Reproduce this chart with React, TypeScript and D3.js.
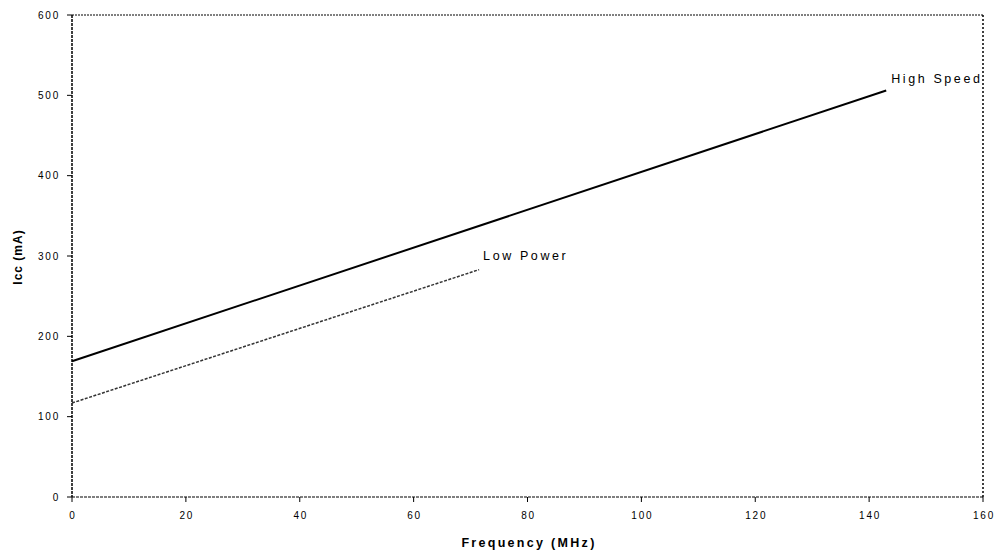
import React from "react";
import * as d3 from "d3";

const xTicks = [0, 20, 40, 60, 80, 100, 120, 140, 160];
const yTicks = [0, 100, 200, 300, 400, 500, 600];
const highSpeedX = [0, 143];
const highSpeedY = [169, 506];
const lowPowerX = [0, 71.5];
const lowPowerY = [117, 283];

const W = 998, H = 553;
const left = 72, right = 983, top = 15, bottom = 497;

export default function App() {
  const x = d3.scaleLinear().domain([0, 160]).range([left, right]);
  const y = d3.scaleLinear().domain([0, 600]).range([bottom, top]);
  const line = d3.line<[number, number]>().x(d => x(d[0])).y(d => y(d[1]));
  const hs = highSpeedX.map((v, i) => [v, highSpeedY[i]] as [number, number]);
  const lp = lowPowerX.map((v, i) => [v, lowPowerY[i]] as [number, number]);
  const font = "Arial, 'Liberation Sans', sans-serif";
  return (
    <svg width={W} height={H} style={{ position: "absolute", left: 0, top: 0, background: "#fff" }} fontFamily={font}>
      {/* frame */}
      <line x1={left} y1={top} x2={right} y2={top} stroke="#000" strokeWidth={1} strokeDasharray="2,1" />
      <line x1={right} y1={top} x2={right} y2={bottom} stroke="#000" strokeWidth={1.5} strokeDasharray="2,2" />
      <line x1={left} y1={top} x2={left} y2={bottom} stroke="#000" strokeWidth={1.5} strokeDasharray="3,1" />
      <line x1={left} y1={bottom} x2={right} y2={bottom} stroke="#000" strokeWidth={1.2} strokeDasharray="3,1" />
      {/* y ticks */}
      {yTicks.map(t => (
        <g key={"y" + t}>
          <line x1={left - 5} x2={left} y1={y(t)} y2={y(t)} stroke="#000" />
          <text x={left - 12} y={y(t)} dy="0.35em" textAnchor="end" fontSize={10} letterSpacing={1.8}>{t}</text>
        </g>
      ))}
      {/* x ticks */}
      {xTicks.map(t => (
        <g key={"x" + t}>
          <line x1={x(t)} x2={x(t)} y1={bottom} y2={bottom + 5} stroke="#000" />
          <text x={x(t) + 1} y={bottom + 22} textAnchor="middle" fontSize={10} letterSpacing={1.8}>{t}</text>
        </g>
      ))}
      <text x={529} y={547} textAnchor="middle" fontSize={12.5} fontWeight="bold" letterSpacing={2.3}>Frequency (MHz)</text>
      <text transform={`translate(22, ${257}) rotate(-90)`} textAnchor="middle" fontSize={12} fontWeight="bold" letterSpacing={1}>Icc (mA)</text>
      {/* series */}
      <path d={line(hs) || ""} fill="none" stroke="#000" strokeWidth={2} />
      <path d={line(lp) || ""} fill="none" stroke="#333" strokeWidth={1.5} strokeDasharray="3,1.5" />
      <text x={x(143) + 5} y={y(506) - 8} fontSize={12.5} letterSpacing={2.6}>High Speed</text>
      <text x={x(71.5) + 4} y={y(283) - 10} fontSize={12.5} letterSpacing={2.6}>Low Power</text>
    </svg>
  );
}
